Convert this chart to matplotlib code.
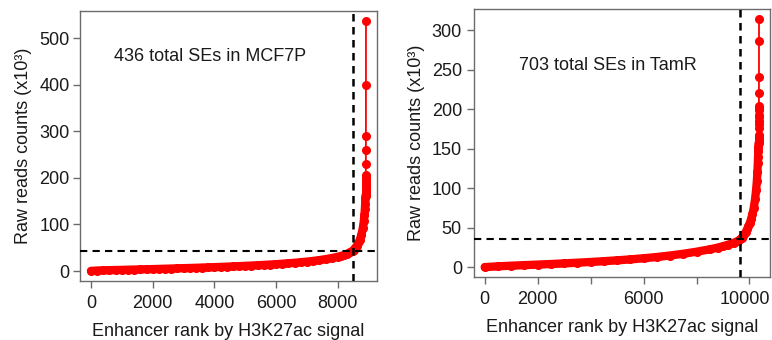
import matplotlib
matplotlib.use('Agg')
import matplotlib.pyplot as plt
from matplotlib.transforms import ScaledTranslation

plt.rcParams['font.family'] = ['Liberation Sans', 'DejaVu Sans']

# MCF7P: ranked enhancer signal (raw reads, x10^3)
mcf7_total = 8911
mcf7_se_count = 436
mcf7_cutoff = 43
mcf7_curve_rank = [1, 200, 400, 600, 800, 1000, 1200, 1400, 1600, 1800, 2000,
                   2200, 2400, 2600, 2800, 3000, 3200, 3400, 3600, 3800, 4000,
                   4200, 4400, 4600, 4800, 5000, 5200, 5400, 5600, 5800, 6000,
                   6200, 6400, 6600, 6800, 7000, 7200, 7400, 7600, 7800, 8000,
                   8100, 8200, 8300, 8400, 8475, 8511, 8561, 8611, 8661, 8711,
                   8761, 8811, 8841, 8861, 8876, 8886, 8893, 8896]
mcf7_curve_reads = [0.3, 1.0, 1.4, 1.8, 2.1, 2.4, 2.8, 3.1, 3.4, 3.8, 4.1,
                    4.5, 4.9, 5.3, 5.7, 6.1, 6.5, 6.9, 7.4, 7.8, 8.3,
                    8.8, 9.3, 9.9, 10.5, 11.1, 11.7, 12.4, 13.1, 13.9, 14.7,
                    15.6, 16.6, 17.7, 18.9, 20.2, 21.7, 23.4, 25.4, 27.8, 30.6,
                    32.3, 34.4, 37.0, 40.5, 43.0, 45.5, 49.5, 54, 60, 67,
                    77, 93, 107, 120, 133, 145, 156, 162]
mcf7_top_reads = [165, 168, 172, 176, 180, 186, 190, 195, 200, 207,
                  230, 261, 290, 400, 537]

# TamR
tamr_total = 10360
tamr_se_count = 703
tamr_cutoff = 35.4
tamr_curve_rank = [1, 500, 1000, 1500, 2000, 2500, 3000, 3500, 4000, 4500,
                   5000, 5500, 6000, 6500, 7000, 7500, 8000, 8500, 8800, 9000,
                   9200, 9400, 9550, 9657, 9710, 9760, 9810, 9860, 9910, 9960,
                   10010, 10060, 10110, 10160, 10210, 10250, 10280, 10300,
                   10315, 10325, 10332, 10338, 10342]
tamr_curve_reads = [0.3, 1.3, 2.1, 2.8, 3.5, 4.2, 5.0, 5.9, 6.8, 7.8,
                    8.9, 10.1, 11.5, 13.1, 15.0, 17.2, 19.8, 22.8, 25.0, 26.8,
                    28.8, 31.0, 33.3, 35.4, 37.5, 39.5, 42, 45, 48, 52,
                    56, 61, 67, 75, 86, 98, 110, 121,
                    132, 140, 147, 153, 157]
tamr_top_reads = [160, 162, 164, 166, 168, 176, 181, 186, 190, 193,
                  199, 202, 205, 221, 241, 287, 315]

mcf7_label = "436 total SEs in MCF7P"
tamr_label = "703 total SEs in TamR"

x_label = "Enhancer rank by H3K27ac signal"
y_label = "Raw reads counts (x10³)"

mcf7_xticks = [0, 2000, 4000, 6000, 8000]
mcf7_yticks = [0, 100, 200, 300, 400, 500]
tamr_xticks = [0, 2000, 4000, 6000, 8000, 10000]
tamr_xticklabels = ["0", "2000", "", "6000", "", "10000"]
tamr_yticks = [0, 50, 100, 150, 200, 250, 300]

SPINE = '#6b6b6b'
TEXT = '#1a1a1a'
FS = 13


def r_limits(lo, hi):
    pad = 0.04 * (hi - lo)
    return lo - pad, hi + pad


def draw_panel(ax, curve_rank, curve_reads, top_reads, total, se_count, cutoff,
               label, label_xy, xticks, yticks, xticklabels=None, ytick_pad=2.5):
    top_rank = list(range(total - len(top_reads) + 1, total + 1))
    rank = curve_rank + top_rank
    reads = curve_reads + top_reads

    # overlapping points form a thick band along the bulk of the curve
    ax.plot(curve_rank, curve_reads, color='red', lw=6, solid_capstyle='round',
            zorder=2)
    ax.plot(rank, reads, color='red', lw=1.3, marker='o', ms=5.5, mec='red',
            zorder=3)

    ax.axvline(total - se_count, color='black', lw=1.8, ls=(0, (3, 2.2)),
               zorder=4)
    ax.axhline(cutoff, color='black', lw=1.5, ls=(0, (3.5, 2.5)), zorder=4)

    ax.set_xlim(*r_limits(min(rank), max(rank)))
    ax.set_ylim(*r_limits(0, max(reads)))

    ax.text(label_xy[0], label_xy[1], label, fontsize=FS, color=TEXT,
            ha='left', va='center')

    ax.set_xticks(xticks)
    if xticklabels is not None:
        ax.set_xticklabels(xticklabels)
    ax.set_yticks(yticks)
    ax.tick_params(axis='both', direction='out', length=5, width=1,
                   color=SPINE, labelsize=FS, labelcolor=TEXT)
    ax.tick_params(axis='x', pad=5)
    ax.tick_params(axis='y', pad=ytick_pad)
    for s in ax.spines.values():
        s.set_color(SPINE)
        s.set_linewidth(1)

    ax.set_xlabel(x_label, fontsize=FS, color=TEXT, labelpad=8)
    ax.set_ylabel(y_label, fontsize=FS, color=TEXT, labelpad=5)


fig = plt.figure(figsize=(7.72, 3.40), dpi=100)
ax1 = fig.add_axes([0.1036, 0.1735, 0.3847, 0.794])
ax2 = fig.add_axes([0.6136, 0.1844, 0.3838, 0.790])

draw_panel(ax1, mcf7_curve_rank, mcf7_curve_reads, mcf7_top_reads,
           mcf7_total, mcf7_se_count, mcf7_cutoff, mcf7_label, (750, 460),
           mcf7_xticks, mcf7_yticks)
draw_panel(ax2, tamr_curve_rank, tamr_curve_reads, tamr_top_reads,
           tamr_total, tamr_se_count, tamr_cutoff, tamr_label, (1300, 256),
           tamr_xticks, tamr_yticks, tamr_xticklabels, ytick_pad=3.5)

# nudge the last rank label so it stays inside the figure
last = ax2.get_xticklabels()[-1]
last.set_transform(last.get_transform() +
                   ScaledTranslation(-3 / 72, 0, fig.dpi_scale_trans))

fig.savefig('out.png', dpi=100)
plt.close(fig)
